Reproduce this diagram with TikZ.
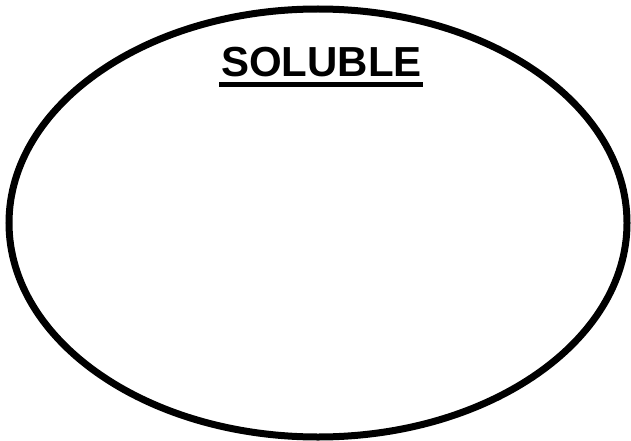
\documentclass[tikz,border=0pt]{standalone}
\usepackage{fontspec}
\setmainfont{Liberation Sans}
\usetikzlibrary{shapes.geometric}
\begin{document}
\begin{tikzpicture}[x=1pt,y=-1pt,
  oval/.style={ellipse, draw=black, line width=7pt, inner sep=0pt, outer sep=0pt,
    minimum width=618pt, minimum height=428pt},
  titletext/.style={font=\fontsize{42}{42}\selectfont\bfseries, inner sep=0pt, anchor=base},
  uline/.style={line width=4.5pt, black}]
\useasboundingbox (0,0) rectangle (631,441);
\fill[white] (0,0) rectangle (631,441);
\node[oval] (oval) at (318,223) {};
\node[titletext] (title) at (321.5,76.7) {SOLUBLE};
\coordinate (ulA) at (219,84.5);
\coordinate (ulB) at (423,84.5);
\draw[uline] (ulA) -- (ulB);
\end{tikzpicture}
\end{document}
